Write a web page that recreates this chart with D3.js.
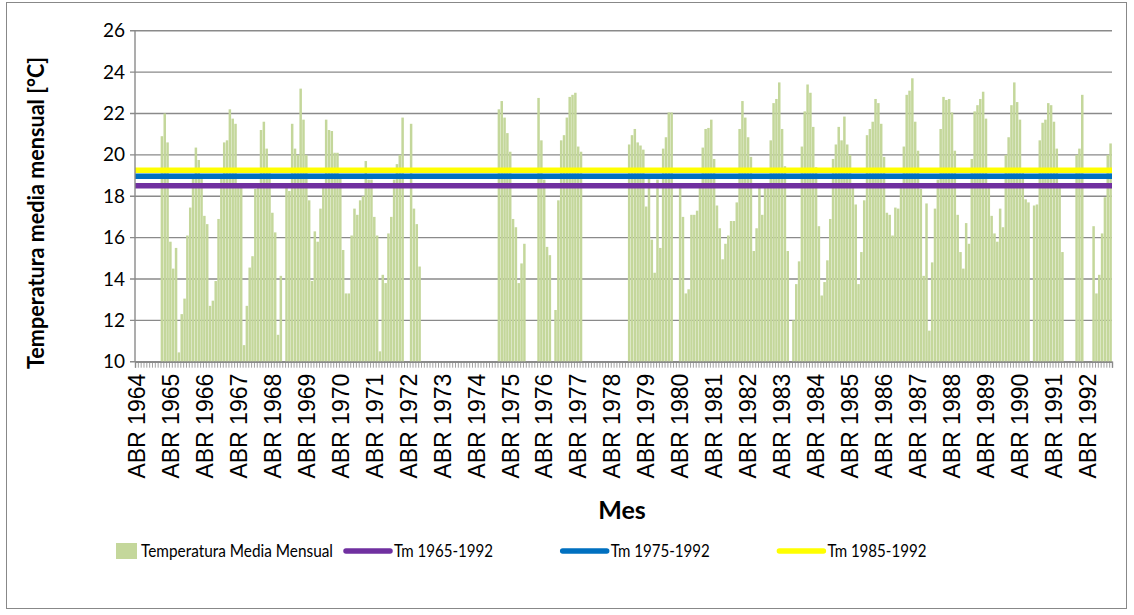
<!DOCTYPE html>
<html>
<head>
<meta charset="utf-8">
<script src="https://cdn.jsdelivr.net/npm/d3@7"></script>
<style>
  body { margin: 0; background: #fff; }
  text { font-family: Lato, "Open Sans", sans-serif; fill: #000; }
</style>
</head>
<body>
<svg id="chart"></svg>
<script>
let width = 1134, height = 615;

// month names used for the category labels
let meses = ["ENE", "FEB", "MAR", "ABR", "MAY", "JUN", "JUL", "AGO", "SEP", "OCT", "NOV", "DIC"];
let anioInicio = 1964, mesInicio = 3; // first category is ABR 1964

// monthly mean temperature [°C], one line per year (null = no data)
let temperatura = [
  null, null, null, null, null, null, null, null, null,                      // 1964 (abr-dic)
  20.9, 22.0, 20.6, 15.8, 14.5, 15.5, 10.45, 12.3, 13.05, 16.1, 17.45, 18.9,  // 1965
  20.35, 19.75, 18.9, 17.05, 16.65, 12.7, 12.95, 13.9, 16.9, 18.9, 20.6, 20.7, // 1966
  22.2, 21.75, 21.5, 18.4, 18.4, 10.8, 12.7, 14.55, 15.1, 18.35, 18.4, 21.2,  // 1967
  21.6, 20.3, 19.3, 17.2, 16.25, 11.3, 14.15, null, 18.4, 18.25, 21.5, 20.3,  // 1968
  20.0, 23.2, 21.7, 20.0, 17.8, 13.9, 16.3, 15.8, 17.4, 18.6, 21.7, 21.2,     // 1969
  21.15, 20.1, 20.1, 18.9, 15.4, 13.3, 13.3, 16.1, 17.4, 17.1, 17.8, 18.0,    // 1970
  19.7, 18.8, 18.8, 17.0, 16.1, 10.5, 14.2, 13.8, 16.2, 17.0, 18.8, 19.55,    // 1971
  20.0, 21.8, null, null, 21.5, 17.4, 16.65, 14.6, null, null, null, null,    // 1972
  null, null, null, null, null, null, null, null, null, null, null, null,     // 1973
  null, null, null, null, null, null, null, null, null, null, null, 22.2,     // 1974
  22.6, 21.8, 21.05, 20.15, 16.9, 16.5, 13.8, 14.75, 15.7, null, null, null,  // 1975
  null, 22.75, 20.7, 18.8, 15.55, 15.15, null, 12.5, 17.8, 20.7, 20.95, 21.8, // 1976
  22.8, 22.9, 23.0, 20.4, 20.15, null, null, null, null, null, null, null,    // 1977
  null, null, null, null, null, null, null, null, null, 20.5, 20.95, 21.25,   // 1978
  20.6, 20.45, 20.25, 17.5, 18.85, 15.9, 14.3, 18.8, 15.5, 20.3, 20.85, 22.05, // 1979
  22.05, null, null, 18.4, 17.0, 13.3, 13.5, 17.1, 17.1, 17.3, 18.5, 20.35,   // 1980
  21.25, 21.3, 21.7, 19.8, 17.55, 16.45, 14.95, 15.7, 16.1, 16.8, 16.8, 17.7, // 1981
  21.25, 22.6, 21.8, 20.85, 19.9, 15.35, 16.45, 18.4, 17.1, 18.6, 18.6, 20.7, // 1982
  22.5, 22.7, 23.5, 21.25, 19.45, 15.35, null, 12.0, 13.75, 14.85, 20.4, 22.1, // 1983
  23.4, 23.0, 21.35, 19.4, 16.55, 13.2, 13.85, 14.9, 16.9, 19.8, 20.5, 21.35, // 1984
  20.7, 21.85, 20.5, 20.0, 18.4, 17.6, 13.75, 15.3, 17.8, 20.95, 21.25, 21.6, // 1985
  22.7, 22.5, 21.5, 19.9, 17.2, 17.1, 16.1, 17.45, 17.4, 18.4, 20.4, 22.9,    // 1986
  23.1, 23.7, 21.6, 20.2, 18.35, 14.15, 17.65, 11.5, 14.8, 17.4, 18.8, 21.25, // 1987
  22.8, 22.65, 22.7, 22.05, 20.2, 17.1, 15.3, 14.5, 16.7, 15.7, 19.8, 22.1,   // 1988
  22.4, 22.7, 23.05, 21.75, 18.4, 17.05, 16.2, 15.8, 17.4, 16.5, 20.0, 20.85, // 1989
  22.4, 23.5, 22.55, 21.7, 19.2, 17.85, 17.7, null, 17.55, 17.6, 20.7, 21.55, // 1990
  21.7, 22.5, 22.4, 21.6, 20.3, 18.4, 15.3, null, null, null, null, 20.0,     // 1991
  20.3, 22.9, null, null, null, 16.55, 13.3, 14.2, 16.2, 17.95, 20.0, 20.55   // 1992
];

// period means drawn as horizontal lines
let nombresTm = ["Tm 1965-1992", "Tm 1975-1992", "Tm 1985-1992"];
let valoresTm = [18.5, 18.97, 19.25];
let coloresTm = ["#7030a0", "#0070c0", "#ffff00"];

let ticksY = [10, 12, 14, 16, 18, 20, 22, 24, 26];

let categorias = temperatura.map((d, i) => {
  let m = mesInicio + i;
  return meses[m % 12] + " " + (anioInicio + Math.floor(m / 12));
});

let plot = {left: 135, right: 1112, top: 30.7, bottom: 361.7};

let svg = d3.select("#chart")
  .attr("width", width)
  .attr("height", height);

// chart border
svg.append("rect")
  .attr("x", 6.5).attr("y", 2.5)
  .attr("width", 1120).attr("height", 606)
  .attr("fill", "#fff")
  .attr("stroke", "#888")
  .attr("stroke-width", 1);

let x = d3.scaleBand()
  .domain(d3.range(categorias.length))
  .range([plot.left, plot.right])
  .paddingInner(0.12)
  .paddingOuter(0.06);

// boundaries between months, for the dense tick marks
let xBorde = d3.scaleLinear()
  .domain([0, categorias.length])
  .range([plot.left, plot.right]);

// lines run across the whole plot width
let xLinea = d3.scalePoint()
  .domain(d3.range(categorias.length))
  .range([plot.left, plot.right]);

let y = d3.scaleLinear()
  .domain([10, 26])
  .range([plot.bottom, plot.top]);

// y tick labels
let ejeY = svg.append("g")
  .attr("transform", "translate(" + plot.left + ",0)")
  .call(d3.axisLeft(y).tickValues(ticksY).tickSize(0).tickPadding(10));
ejeY.select(".domain").remove();
ejeY.selectAll("text")
  .style("font-size", "19px")
  .style("font-family", "Lato, sans-serif");

// gridlines (with the small outside tick)
svg.append("g")
  .selectAll("line")
  .data(ticksY)
  .enter()
  .append("line")
  .attr("x1", plot.left - 5)
  .attr("x2", plot.right)
  .attr("y1", d => y(d))
  .attr("y2", d => y(d))
  .attr("stroke", "#8a8a8a")
  .attr("stroke-width", 1.4);

// bars
svg.append("g")
  .selectAll("rect")
  .data(temperatura.map((v, i) => ({i: i, v: v})).filter(d => d.v != null))
  .enter()
  .append("rect")
  .attr("x", d => x(d.i))
  .attr("width", x.bandwidth())
  .attr("y", d => y(d.v))
  .attr("height", d => y(10) - y(d.v))
  .attr("fill", "#c4d79b");

// period mean lines
nombresTm.forEach((nombre, k) => {
  let puntos = [0, categorias.length - 1];
  svg.append("path")
    .datum(puntos)
    .attr("fill", "none")
    .attr("stroke", coloresTm[k])
    .attr("stroke-width", 5.5)
    .attr("d", d3.line().x(d => xLinea(d)).y(() => y(valoresTm[k])));
});

// axis lines
svg.append("line")
  .attr("x1", plot.left).attr("x2", plot.left)
  .attr("y1", plot.top).attr("y2", plot.bottom)
  .attr("stroke", "#8a8a8a").attr("stroke-width", 1.4);

let ejeX = svg.append("g")
  .attr("transform", "translate(0," + plot.bottom + ")")
  .call(d3.axisBottom(xBorde)
    .tickValues(d3.range(categorias.length + 1))
    .tickSize(6)
    .tickFormat(""));
ejeX.select(".domain").attr("stroke", "#8a8a8a").attr("stroke-width", 1.4);
ejeX.selectAll(".tick line").attr("stroke", "#8a8a8a").attr("stroke-width", 0.8);

// category labels, one per year
svg.append("g")
  .selectAll("text")
  .data(categorias.filter((c, i) => i % 12 == 0))
  .enter()
  .append("text")
  .attr("transform", (d, j) => "translate(" + (x(j * 12) + x.bandwidth() / 2) + "," + (plot.bottom + 12) + ") rotate(-90)")
  .attr("text-anchor", "end")
  .attr("dy", "0.36em")
  .style("font-family", "'Liberation Sans', Arial, sans-serif")
  .style("font-size", "23px")
  .text(d => d);

// axis titles
svg.append("text")
  .attr("transform", "translate(44,213) rotate(-90)")
  .attr("text-anchor", "middle")
  .attr("textLength", 312)
  .attr("lengthAdjust", "spacingAndGlyphs")
  .style("font-weight", "bold")
  .style("font-size", "22.5px")
  .text("Temperatura media mensual [°C]");

svg.append("text")
  .attr("x", 622)
  .attr("y", 519)
  .attr("text-anchor", "middle")
  .style("font-weight", "bold")
  .style("font-size", "25px")
  .text("Mes");

// legend
let legendY = 551;
let legend = svg.append("g");
legend.append("rect")
  .attr("x", 116).attr("y", legendY - 8)
  .attr("width", 21).attr("height", 16)
  .attr("fill", "#c4d79b");
legend.append("text")
  .attr("x", 141).attr("y", legendY)
  .attr("dy", "0.35em")
  .attr("textLength", 192)
  .attr("lengthAdjust", "spacingAndGlyphs")
  .style("font-size", "17px")
  .text("Temperatura Media Mensual");

let itemStep = 216.7, itemX0 = 343;
nombresTm.forEach((nombre, k) => {
  let lx = itemX0 + k * itemStep;
  legend.append("line")
    .attr("x1", lx + 3).attr("x2", lx + 47)
    .attr("y1", legendY).attr("y2", legendY)
    .attr("stroke", coloresTm[k])
    .attr("stroke-width", 5.5)
    .attr("stroke-linecap", "round");
  legend.append("text")
    .attr("x", lx + 51).attr("y", legendY)
    .attr("dy", "0.35em")
    .attr("textLength", 99)
    .attr("lengthAdjust", "spacingAndGlyphs")
    .style("font-size", "17px")
    .text(nombre);
});
</script>
</body>
</html>
